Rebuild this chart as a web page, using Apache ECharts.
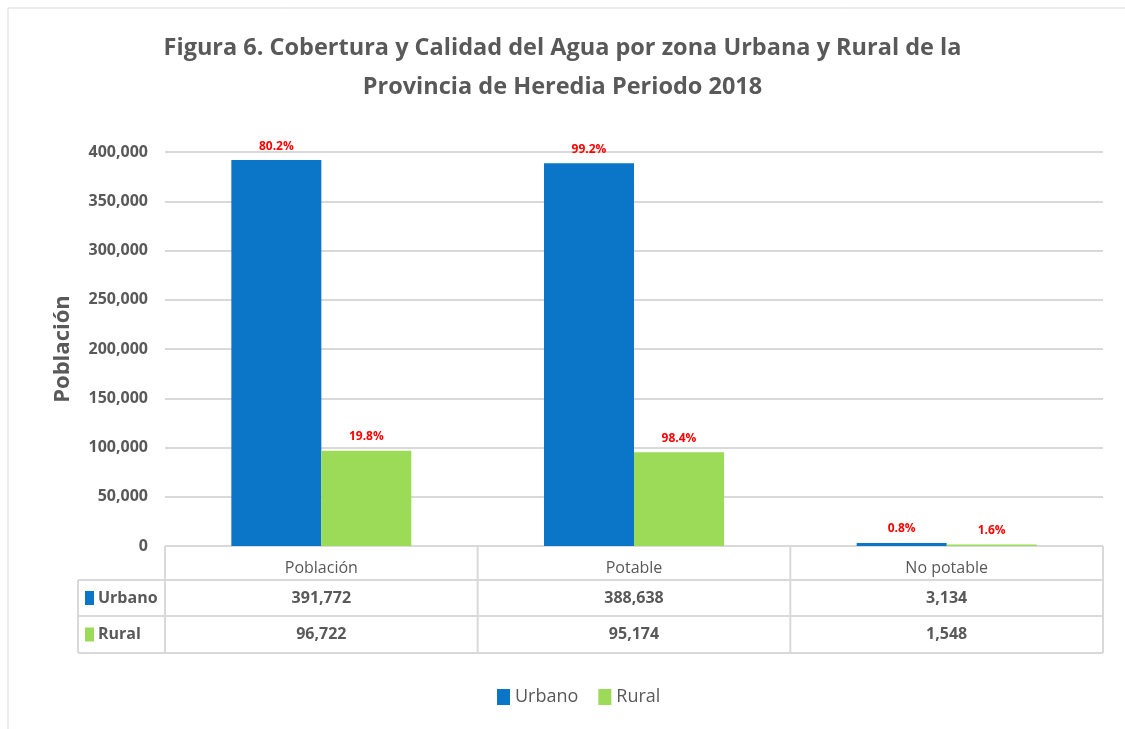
<!DOCTYPE html>
<html>
<head>
    <meta charset="utf-8">
    <title>Cobertura y Calidad del Agua</title>
    <script src="https://cdn.jsdelivr.net/npm/echarts@6/dist/echarts.min.js"></script>
</head>
<body style="margin:0">
<div id="main" style="width:1125px;height:729px;"></div>
<script type="text/javascript">
    // datos
    var categorias = ['Población', 'Potable', 'No potable'];
    var urbano = [391772, 388638, 3134];
    var rural = [96722, 95174, 1548];
    var pctUrbano = ['80.2%', '99.2%', '0.8%'];
    var pctRural = ['19.8%', '98.4%', '1.6%'];

    var FONT = '"Open Sans", sans-serif';
    var GRIS = '#595959';
    var AZUL = '#0B76C8';
    var VERDE = '#9BDB58';
    var fmt = function (v) { return v.toLocaleString('en-US'); };

    var myChart = echarts.init(document.getElementById('main'));

    function etiqueta(pcts) {
        return {
            show: true,
            position: 'top',
            distance: 8,
            color: '#FF0000',
            fontWeight: 'bold',
            fontSize: 12,
            fontFamily: FONT,
            formatter: function (p) { return pcts[p.dataIndex]; }
        };
    }

    myChart.setOption({
        backgroundColor: '#ffffff',
        animation: false,
        title: {
            text: 'Figura 6. Cobertura y Calidad del Agua por zona Urbana y Rural de la\nProvincia de Heredia Periodo 2018',
            left: 'center',
            top: 24,
            textStyle: {
                fontFamily: FONT,
                fontWeight: 'bold',
                fontSize: 23.5,
                color: GRIS,
                lineHeight: 39
            }
        },
        legend: {
            bottom: 18,
            left: 492,
            itemWidth: 13,
            itemHeight: 16,
            itemGap: 20,
            icon: 'rect',
            textStyle: { fontFamily: FONT, fontSize: 18, color: GRIS }
        },
        grid: { left: 165, right: 22, top: 152, bottom: 183 },
        xAxis: {
            type: 'category',
            data: categorias,
            axisLine: { lineStyle: { color: '#d9d9d9', width: 1 } },
            axisTick: { show: false },
            axisLabel: {
                margin: 14,
                fontFamily: FONT,
                fontSize: 16,
                color: GRIS
            }
        },
        yAxis: {
            type: 'value',
            min: 0,
            max: 400000,
            interval: 50000,
            name: 'Población',
            nameLocation: 'middle',
            nameGap: 91,
            nameTextStyle: { fontFamily: FONT, fontWeight: 'bold', fontSize: 22, color: GRIS },
            axisLabel: {
                margin: 17,
                fontFamily: FONT,
                fontWeight: 'bold',
                fontSize: 16,
                color: GRIS,
                formatter: fmt
            },
            splitLine: { lineStyle: { color: '#d9d9d9', width: 2 } }
        },
        series: [
            {
                name: 'Urbano',
                type: 'bar',
                data: urbano,
                barWidth: 90,
                barGap: '0%',
                itemStyle: { color: AZUL },
                label: etiqueta(pctUrbano)
            },
            {
                name: 'Rural',
                type: 'bar',
                data: rural,
                barWidth: 90,
                itemStyle: { color: VERDE },
                label: etiqueta(pctRural)
            }
        ]
    });

    // tabla de datos bajo el eje
    var x0 = 165, x1 = 1103, xl = 78;
    var yEje = 546, yF1 = 580, yF2 = 616, yF3 = 653;
    var ancho = (x1 - x0) / categorias.length;
    var borde = { stroke: '#d9d9d9', lineWidth: 2 };
    var g = [];
    function linea(a, b, c, d) {
        g.push({ type: 'line', shape: { x1: a, y1: b, x2: c, y2: d }, style: borde, silent: true });
    }
    linea(xl, yF1, x1, yF1);
    linea(xl, yF2, x1, yF2);
    linea(xl, yF3, x1, yF3);
    linea(xl, yF1, xl, yF3);
    for (var i = 0; i <= categorias.length; i++) {
        linea(x0 + i * ancho, yEje, x0 + i * ancho, yF3);
    }
    var filas = [
        { nombre: 'Urbano', color: AZUL, vals: urbano, y: (yF1 + yF2) / 2 },
        { nombre: 'Rural', color: VERDE, vals: rural, y: (yF2 + yF3) / 2 }
    ];
    filas.forEach(function (f) {
        g.push({ type: 'rect', shape: { x: 85, y: f.y - 7, width: 9, height: 14 }, style: { fill: f.color } });
        g.push({ type: 'text', x: 98, y: f.y, style: {
            text: f.nombre, fontFamily: FONT, fontSize: 16, fontWeight: 'bold', fill: GRIS, verticalAlign: 'middle'
        } });
        f.vals.forEach(function (v, j) {
            g.push({ type: 'text', x: x0 + (j + 0.5) * ancho, y: f.y, style: {
                text: fmt(v), fontFamily: FONT, fontSize: 16, fontWeight: 'bold', fill: GRIS,
                align: 'center', verticalAlign: 'middle'
            } });
        });
    });
    // marco del grafico
    g.push({ type: 'rect', shape: { x: 8, y: 8, width: 1125, height: 740 },
        style: { fill: null, stroke: '#d9d9d9', lineWidth: 1 }, silent: true });
    myChart.setOption({ graphic: g });
</script>
</body>
</html>
